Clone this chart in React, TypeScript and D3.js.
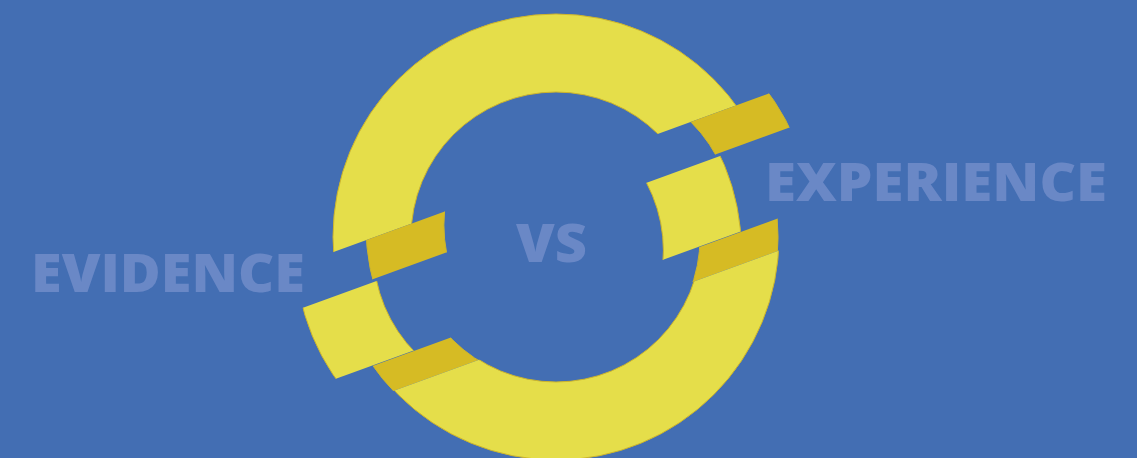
import React from "react";
import * as d3 from "d3";

// ring pieces, described in a frame tilted along the cuts (v = distance across the cut)
const pieceNames = ["top arc", "upper block", "middle block", "lower block", "bottom arc"];
const pieceFrom = [-240, -62, -20, 58.5, 89];
const pieceTo = [-62, -23, 58, 89, 240];
const pieceShift = [0, 35, -40, -1, 0];
const pieceTone = ["light", "dark", "light", "dark", "light"];

const ringInner = 145;
const ringOuter = 223;

const words = ["EVIDENCE", "VS", "EXPERIENCE"];
const wordX = [31, 516, 765];
const wordY = [291.5, 261.5, 200.5];
const wordLen = [274, 71, 342];

const W = 1137;
const H = 458;
const cx = 556;
const cy = 237;
const tilt = -20;

const tones: Record<string, string> = { light: "#E5DE4A", dark: "#D6BB24" };

export default function App() {
  const arc = d3
    .arc()
    .innerRadius(ringInner)
    .outerRadius(ringOuter)
    .startAngle(0)
    .endAngle(2 * Math.PI);
  const ringPath = arc({} as any) as string;

  // u axis across the frame (along the cut)
  const u = d3.scaleLinear().domain([-300, 300]).range([-300, 300]);

  return (
    <svg
      width={W}
      height={H}
      style={{ position: "fixed", left: 0, top: 0, display: "block" }}
    >
      <defs>
        {pieceNames.map((n, i) => (
          <clipPath key={n} id={`piece-${i}`}>
            <rect
              x={u(-300)}
              y={pieceFrom[i]}
              width={u(300) - u(-300)}
              height={pieceTo[i] - pieceFrom[i]}
            />
          </clipPath>
        ))}
      </defs>
      <rect width={W} height={H} fill="#436EB3" />

      {words.map((w, i) => (
        <text
          key={w}
          x={wordX[i]}
          y={wordY[i]}
          textLength={wordLen[i]}
          lengthAdjust="spacingAndGlyphs"
          fontFamily="'Open Sans', sans-serif"
          fontWeight={800}
          fontSize={53.5}
          fill="#6A88C6"
        >
          {w}
        </text>
      ))}

      {pieceNames.map((n, i) => (
        <g
          key={n}
          transform={`translate(${cx},${cy}) rotate(${tilt})`}
          clipPath={`url(#piece-${i})`}
        >
          <g transform={`translate(${u(pieceShift[i])},0) rotate(${-tilt})`}>
            <path
              d={ringPath}
              fill={tones[pieceTone[i]]}
              stroke="#CDB52C"
              strokeWidth={1}
            />
          </g>
        </g>
      ))}
    </svg>
  );
}
